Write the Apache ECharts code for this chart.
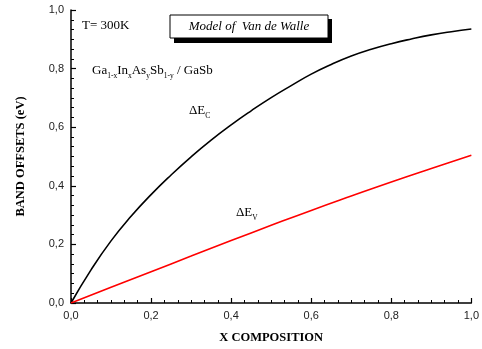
<!DOCTYPE html>
<html>
<head>
<meta charset="utf-8">
<script src="https://cdn.jsdelivr.net/npm/echarts@6/dist/echarts.min.js"></script>
<style>
html,body{margin:0;padding:0;background:#fff;}
#c{width:482px;height:349px;}
</style>
</head>
<body>
<div id="c"></div>
<script>
// Data
var xEc = [0, 0.05, 0.1, 0.15, 0.2, 0.25, 0.3, 0.35, 0.4, 0.45, 0.5, 0.55, 0.6, 0.65, 0.7, 0.75, 0.8, 0.85, 0.9, 0.95, 1.0];
var deltaEc = [0, 0.113, 0.212, 0.296, 0.370, 0.437, 0.499, 0.556, 0.608, 0.656, 0.701, 0.742, 0.781, 0.814, 0.843, 0.866, 0.885, 0.901, 0.915, 0.926, 0.935];
var xEv = [0, 0.1, 0.2, 0.3, 0.4, 0.5, 0.6, 0.7, 0.8, 0.9, 1.0];
var deltaEv = [0, 0.054, 0.107, 0.160, 0.213, 0.265, 0.316, 0.365, 0.413, 0.459, 0.504];
var xTicks = [0, 0.2, 0.4, 0.6, 0.8, 1.0];
var yTicks = [0, 0.2, 0.4, 0.6, 0.8, 1.0];

function pairs(xs, ys) { return xs.map(function (x, i) { return [x, ys[i]]; }); }
function fmt(v) { return v.toFixed(1).replace('.', ','); }

var chart = echarts.init(document.getElementById('c'), null, {renderer: 'canvas'});
var serif = '"Liberation Serif", "Times New Roman", serif';
var sans = '"Liberation Sans", Arial, sans-serif';

function axisCommon(ticks) {
  return {
    type: 'value',
    min: ticks[0],
    max: ticks[ticks.length - 1],
    interval: ticks[1] - ticks[0],
    splitLine: {show: false},
    axisLine: {show: true, onZero: false, lineStyle: {color: '#000', width: 1.5}},
    axisTick: {show: true, inside: true, length: 5, lineStyle: {color: '#000', width: 1.2}},
    minorTick: {show: true, splitNumber: 6, length: 3, lineStyle: {color: '#000', width: 1}},
    axisLabel: {formatter: fmt, color: '#222', fontFamily: sans, fontSize: 11}
  };
}

var xAxis = axisCommon(xTicks);
xAxis.name = 'X COMPOSITION';
xAxis.nameLocation = 'middle';
xAxis.nameGap = 28;
xAxis.nameTextStyle = {fontFamily: serif, fontWeight: 'bold', fontSize: 12.5, color: '#000'};
xAxis.axisLabel.margin = 7;

var yAxis = axisCommon(yTicks);
yAxis.name = 'BAND OFFSETS (eV)';
yAxis.nameLocation = 'middle';
yAxis.nameGap = 44;
yAxis.nameTextStyle = {fontFamily: serif, fontWeight: 'bold', fontSize: 12.5, color: '#000'};
yAxis.axisLabel.margin = 7;

var subRich = {
  m: {fontFamily: serif, fontSize: 13, color: '#000', lineHeight: 18, verticalAlign: 'middle'},
  s: {fontFamily: serif, fontSize: 7.5, color: '#000', lineHeight: 7, verticalAlign: 'bottom'},
  mr: {fontFamily: serif, fontSize: 13, color: '#ff0000', lineHeight: 18, verticalAlign: 'middle'},
  sr: {fontFamily: serif, fontSize: 7.5, color: '#ff0000', lineHeight: 7, verticalAlign: 'bottom'}
};

chart.setOption({
  animation: false,
  grid: {left: 71, right: 8, top: 10, bottom: 46, containLabel: false},
  xAxis: xAxis,
  yAxis: yAxis,
  series: [
    {type: 'line', data: pairs(xEc, deltaEc), smooth: true, showSymbol: false,
     lineStyle: {color: '#000', width: 1.6}},
    {type: 'line', data: pairs(xEv, deltaEv), smooth: true, showSymbol: false,
     lineStyle: {color: '#ff0000', width: 1.6}}
  ],
  graphic: [
    {type: 'text', left: 82, top: 19, style: {text: 'T= 300K', font: '13px ' + serif, fill: '#000'}},
    {type: 'rect', shape: {x: 174, y: 19, width: 158, height: 24}, style: {fill: '#000'}},
    {type: 'rect', shape: {x: 170, y: 15, width: 158, height: 23}, style: {fill: '#fff', stroke: '#000', lineWidth: 1}},
    {type: 'text', x: 249, y: 27, style: {text: 'Model of  Van de Walle', font: 'italic 13px ' + serif, fill: '#000', textAlign: 'center', textVerticalAlign: 'middle'}},
    {type: 'text', x: 92, y: 62, style: {
      text: '{m|Ga}{s|1-x}{m|In}{s|x}{m|As}{s|y}{m|Sb}{s|1-y}{m| / GaSb}', rich: subRich}},
    {type: 'text', x: 189, y: 102, style: {text: '{m|ΔE}{s|C}', rich: subRich}},
    {type: 'text', x: 236, y: 204, style: {text: '{mr|ΔE}{sr|V}', rich: subRich}}
  ]
});
</script>
</body>
</html>
